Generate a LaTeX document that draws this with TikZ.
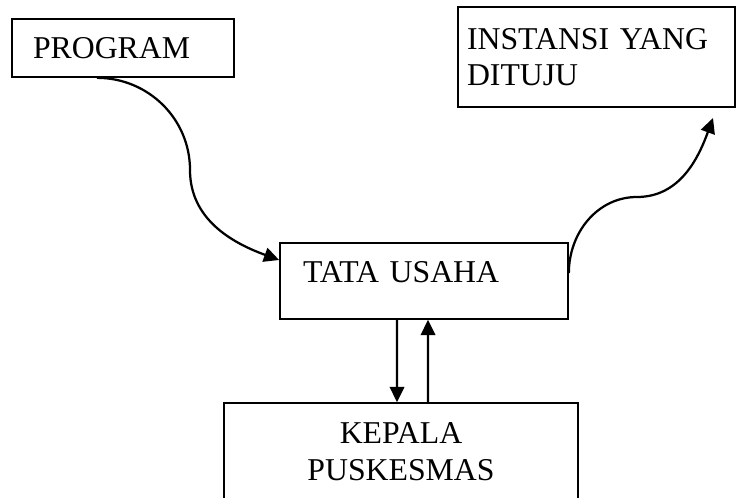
\documentclass[tikz,border=0pt]{standalone}
\usepackage{fontspec}
\setmainfont{Liberation Serif}
\usetikzlibrary{arrows.meta}

\begin{document}
\begin{tikzpicture}[box/.style = {draw, line width = 1.2pt, inner ysep = 0pt, font = \fontsize{22.6}{26}\selectfont},
    link/.style = {line width = 1.6pt, -{Triangle[length = 0.38cm, width = 0.36cm]}}]
    \useasboundingbox (0,0) rectangle (18.4,12.45);
    \node[box, minimum height = 1.45cm, text width = 4.5cm, inner xsep = 0.525cm, align = left] (P) at (3.075,11.25) {PROGRAM};
    \node[box, minimum height = 2.5cm, text width = 6.475cm, inner xsep = 0.225cm, align = left] (I) at (14.9125,11.025) {INSTANSI YANG\\ DITUJU};
    \node[box, minimum height = 1.9cm, text width = 6.05cm, inner xsep = 0.575cm, text depth = 0.45cm, align = left] (T) at (10.6,5.425) {TATA USAHA};
    \node[box, minimum height = 2.425cm, minimum width = 8.85cm, align = center] (K) at (10.025,1.1625) {KEPALA\\ PUSKESMAS};
    \coordinate (bendP) at (4.75,8.2);
    \coordinate (bendI) at (15.925,7.525);
    \coordinate (tipI) at (17.825,9.5);
    \draw[link] ([xshift = -0.65cm]P.south) to[out = 0, in = 90] (bendP) to[out = -90, in = 160] ([yshift = 0.525cm]T.west);
    \draw[link] ([yshift = 0.2cm]T.east) to[out = 90, in = 180] (bendI) to[out = 0, in = -110] (tipI);
    \draw[link] ([xshift = -0.675cm]T.south) -- ([xshift = -0.1cm]K.north);
    \draw[link] ([xshift = 0.675cm]K.north) -- ([xshift = 0.1cm]T.south);
\end{tikzpicture}
\end{document}
